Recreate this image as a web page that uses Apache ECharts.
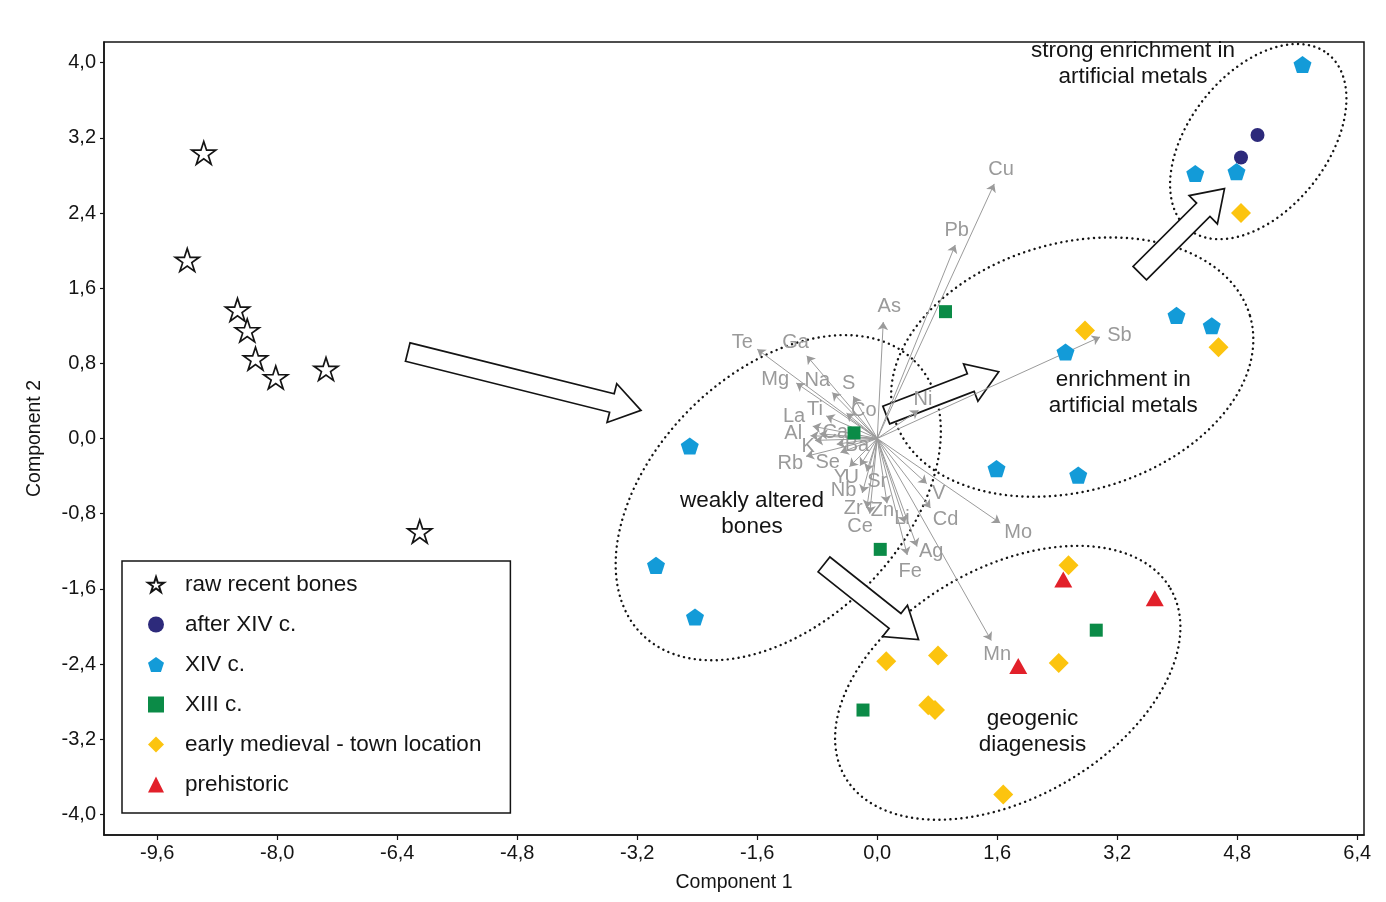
<!DOCTYPE html>
<html><head><meta charset="utf-8">
<script src="https://cdn.jsdelivr.net/npm/echarts@6/dist/echarts.min.js"></script>
<style>html,body{margin:0;padding:0;background:#fff}#chart{width:1386px;height:902px}</style>
</head><body><div id="chart"></div>
<script>
// ---- data ----
const rawRecentBones = [[-8.98,3.04],[-9.20,1.90],[-8.53,1.37],[-8.40,1.15],[-8.29,0.85],[-8.02,0.65],[-7.35,0.74],[-6.10,-0.99]];
const afterXIV = [[5.07,3.23],[4.85,2.99]];
const xivCentury = [[5.67,3.98],[4.24,2.82],[4.79,2.84],[3.99,1.31],[4.46,1.20],[2.51,0.92],[1.59,-0.32],[2.68,-0.39],[-2.50,-0.08],[-2.95,-1.35],[-2.43,-1.90]];
const xiiiCentury = [[0.91,1.35],[-0.31,0.06],[0.04,-1.18],[2.92,-2.04],[-0.19,-2.89]];
const earlyMedieval = [[4.85,2.40],[2.77,1.15],[4.55,0.97],[2.55,-1.35],[0.12,-2.37],[0.81,-2.31],[2.42,-2.39],[0.68,-2.84],[0.77,-2.89],[1.68,-3.79]];
const prehistoric = [[2.48,-1.50],[3.70,-1.70],[1.88,-2.42]];

const elements = ['Cu','Pb','As','Sb','Ni','Te','Ga','Mg','Na','S','Co','Ti','La','Ca','Al','K','Ba','Rb','Se','Y','U','Nb','Sr','Zr','Zn','Li','V','Cd','Mo','Ag','Fe','Ce','Mn'];
const loadings = [[1.56,2.71],[1.04,2.06],[0.08,1.24],[2.97,1.08],[0.55,0.30],[-1.60,0.95],[-0.94,0.88],[-1.08,0.59],[-0.60,0.49],[-0.32,0.45],[-0.41,0.27],[-0.68,0.24],[-0.86,0.13],[-0.77,0.05],[-0.89,0.03],[-0.83,-0.02],[-0.54,-0.06],[-0.95,-0.19],[-0.49,-0.15],[-0.37,-0.30],[-0.23,-0.29],[-0.20,-0.58],[-0.14,-0.35],[-0.14,-0.74],[0.13,-0.69],[0.37,-0.90],[0.66,-0.48],[0.71,-0.74],[1.64,-0.90],[0.53,-1.15],[0.40,-1.24],[-0.10,-0.80],[1.52,-2.15]];
const loadingLabelAt = [[1.65,2.86],[1.06,2.21],[0.16,1.40],[3.23,1.10],[0.61,0.41],[-1.80,1.02],[-1.09,1.02],[-1.36,0.63],[-0.80,0.62],[-0.38,0.59],[-0.18,0.30],[-0.83,0.31],[-1.11,0.23],[-0.56,0.06],[-1.12,0.05],[-0.92,-0.08],[-0.27,-0.07],[-1.16,-0.27],[-0.66,-0.25],[-0.49,-0.41],[-0.34,-0.41],[-0.45,-0.55],[0.00,-0.46],[-0.32,-0.74],[0.07,-0.77],[0.33,-0.85],[0.82,-0.59],[0.91,-0.86],[1.88,-1.00],[0.72,-1.20],[0.44,-1.42],[-0.23,-0.94],[1.60,-2.30]];

const groupNames = ['weakly altered\nbones','enrichment in\nartificial metals','strong enrichment in\nartificial metals','geogenic\ndiagenesis'];
const groupLabelAt = [[-1.67,-0.80],[3.28,0.49],[3.41,3.99],[2.07,-3.12]];
const groupCentres = [[-1.32,-0.63],[2.60,0.76],[5.08,3.16],[1.74,-2.60]];
const shiftTails = [[-6.26,0.92],[-0.71,-1.34],[0.12,0.25],[3.50,1.76]];
const shiftTips = [[-3.15,0.30],[0.55,-2.14],[1.62,0.71],[4.63,2.66]];

const xTicks = [-9.6,-8.0,-6.4,-4.8,-3.2,-1.6,0.0,1.6,3.2,4.8,6.4];
const yTicks = [-4.0,-3.2,-2.4,-1.6,-0.8,0.0,0.8,1.6,2.4,3.2,4.0];

// ---- styling / geometry (pixels) ----
const ellipseShape = [[193,125,45],[185,124,16],[112,69,51.5],[188,115,30]]; // rx, ry, tilt deg
const FONT = "'Liberation Sans', Arial, Helvetica, sans-serif";
const INK = '#141414';
const fmt = v => v.toFixed(1).replace('.', ',');
const STAR = 'path://M0,-1 L0.2245,-0.309 L0.951,-0.309 L0.363,0.118 L0.588,0.809 L0,0.382 L-0.588,0.809 L-0.363,0.118 L-0.951,-0.309 L-0.2245,-0.309 Z';
const PENTA = 'path://M0,-1 L0.951,-0.309 L0.588,0.809 L-0.588,0.809 L-0.951,-0.309 Z';

const chart = echarts.init(document.getElementById('chart'), null, {renderer:'canvas'});

function ellipseItem(params, api) {
  const c = api.coord([api.value(0), api.value(1)]);
  const s = ellipseShape[params.dataIndex];
  const a = s[0], b = s[1], th = s[2] * Math.PI / 180;
  const pts = [];
  for (let i = 0; i < 240; i++) {
    const t = i / 240 * Math.PI * 2;
    const ex = a * Math.cos(t), ey = b * Math.sin(t);
    pts.push([c[0] + ex * Math.cos(th) + ey * Math.sin(th), c[1] - ex * Math.sin(th) + ey * Math.cos(th)]);
  }
  return {type:'polygon', shape:{points:pts}, style:{fill:null, stroke:INK, lineWidth:2.4, lineDash:[0.1,5.4], lineCap:'round'}, z2:1};
}
function blockArrow(params, api) {
  const p1 = api.coord([api.value(0), api.value(1)]);
  const p2 = api.coord([api.value(2), api.value(3)]);
  const dx = p2[0]-p1[0], dy = p2[1]-p1[1], L = Math.hypot(dx,dy);
  const ux = dx/L, uy = dy/L, nx = -uy, ny = ux;
  const sh = 9.5, hh = 20, hl = 30;
  const bx = p2[0]-ux*hl, by = p2[1]-uy*hl;
  const pts = [
    [p1[0]+nx*sh, p1[1]+ny*sh],[bx+nx*sh, by+ny*sh],[bx+nx*hh, by+ny*hh],p2,
    [bx-nx*hh, by-ny*hh],[bx-nx*sh, by-ny*sh],[p1[0]-nx*sh, p1[1]-ny*sh]];
  return {type:'polygon', shape:{points:pts}, style:{fill:'#fff', stroke:INK, lineWidth:1.7}};
}

const option = {
  animation:false,
  backgroundColor:'#fff',
  textStyle:{fontFamily:FONT},
  grid:{left:104, right:22, top:42, bottom:67, show:true, borderColor:INK, borderWidth:1.5, containLabel:false},
  xAxis:{type:'value', min:-10.31, max:6.49,
    name:'Component 1', nameLocation:'middle', nameGap:38, nameTextStyle:{fontSize:19.5, color:INK, fontFamily:FONT},
    axisLine:{show:true, onZero:false, lineStyle:{color:INK, width:1.5}},
    axisTick:{show:true, length:5, customValues:xTicks, lineStyle:{color:INK, width:1.2}},
    axisLabel:{customValues:xTicks, formatter:fmt, fontSize:20, color:INK, margin:8, fontFamily:FONT},
    splitLine:{show:false}},
  yAxis:{type:'value', min:-4.22, max:4.22,
    name:'Component 2', nameLocation:'middle', nameGap:59, nameRotate:90, nameTextStyle:{fontSize:19.5, color:INK, fontFamily:FONT},
    axisLine:{show:true, onZero:false, lineStyle:{color:INK, width:1.5}},
    axisTick:{show:true, length:4, customValues:yTicks, lineStyle:{color:INK, width:1.2}},
    axisLabel:{customValues:yTicks, formatter:fmt, fontSize:20, color:INK, margin:8, fontFamily:FONT},
    splitLine:{show:false}},
  legend:{
    orient:'vertical', left:122, top:561,
    data:['raw recent bones','after XIV c.','XIV c.','XIII c.','early medieval - town location','prehistoric'],
    itemWidth:16, itemHeight:16, itemGap:17,
    padding:[12,29,17,25],
    borderColor:INK, borderWidth:1.5, backgroundColor:'#fff',
    textStyle:{fontSize:22.5, color:INK, fontFamily:FONT, lineHeight:20, padding:[0,0,0,16]}
  },
  series:[
    {type:'custom', name:'groups', silent:true, z:1, clip:false,
     data:groupCentres, renderItem:ellipseItem, encode:{x:0, y:1}},
    {type:'custom', name:'shifts', silent:true, z:2, clip:false,
     data:shiftTails.map((t,i)=>[t[0],t[1],shiftTips[i][0],shiftTips[i][1]]), renderItem:blockArrow, encode:{x:[0,2], y:[1,3]}},
    {type:'lines', name:'loadings', coordinateSystem:'cartesian2d', silent:true, z:3,
     symbol:['none','arrow'], symbolSize:[6,8],
     lineStyle:{color:'#9b9b9b', width:1, opacity:1, curveness:0},
     data:loadings.map(l=>({coords:[[0,0],l]}))},
    {type:'scatter', name:'loadingLabels', silent:true, z:4, symbolSize:0, itemStyle:{opacity:1},
     data:loadingLabelAt.map((p,i)=>({name:elements[i], value:p})),
     label:{show:true, position:'inside', formatter:'{b}', fontSize:20, color:'#9a9a9a', fontFamily:FONT}},
    {type:'scatter', name:'groupLabels', silent:true, z:4, symbolSize:0, itemStyle:{opacity:1},
     data:groupLabelAt.map((p,i)=>({name:groupNames[i], value:p})),
     label:{show:true, position:'inside', formatter:'{b}', fontSize:22.5, lineHeight:26, align:'center', color:INK, fontFamily:FONT}},
    {type:'scatter', name:'raw recent bones', z:5, symbol:STAR, symbolSize:24, symbolKeepAspect:true,
     itemStyle:{color:'#fff', borderColor:INK, borderWidth:1.7, opacity:1}, data:rawRecentBones},
    {type:'scatter', name:'after XIV c.', z:5, symbol:'circle', symbolSize:14,
     itemStyle:{color:'#2d2a7b', opacity:1}, data:afterXIV},
    {type:'scatter', name:'XIV c.', z:5, symbol:PENTA, symbolSize:18, symbolKeepAspect:true,
     itemStyle:{color:'#139bd8', opacity:1}, data:xivCentury},
    {type:'scatter', name:'XIII c.', z:5, symbol:'rect', symbolSize:13,
     itemStyle:{color:'#0b8b47', opacity:1}, data:xiiiCentury},
    {type:'scatter', name:'early medieval - town location', z:5, symbol:'diamond', symbolSize:[20,20],
     itemStyle:{color:'#fcc40f', opacity:1}, data:earlyMedieval},
    {type:'scatter', name:'prehistoric', z:5, symbol:'triangle', symbolSize:[18,16],
     itemStyle:{color:'#e2202a', opacity:1}, data:prehistoric}
  ]
};
chart.setOption(option);
</script>
</body></html>
